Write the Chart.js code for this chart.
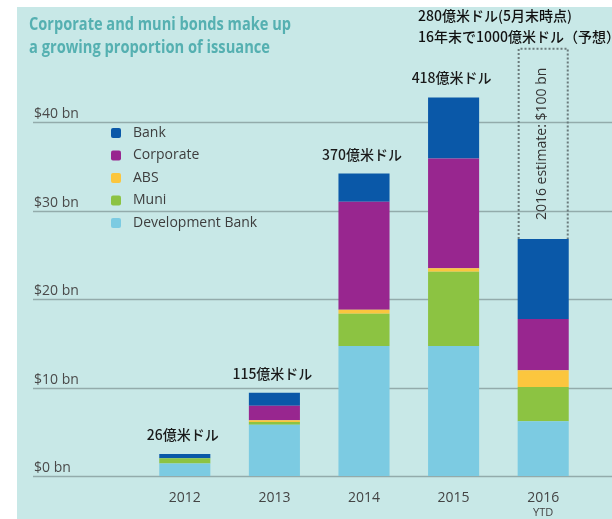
<!DOCTYPE html>
<html>
<head>
<meta charset="utf-8">
<title>Corporate and muni bonds</title>
<script src="https://cdn.jsdelivr.net/npm/chart.js@4.4.1/dist/chart.umd.min.js"></script>
<style>
  html, body { margin: 0; padding: 0; background: #fff; }
  canvas { display: block; }
</style>
</head>
<body>
<canvas id="chart-bonds" width="612" height="519"></canvas>
<script>
// values, $ bn
var years = ["2012", "2013", "2014", "2015", "2016"];
var devBank = [1.4, 5.8, 14.7, 14.7, 6.2];
var muni = [0.6, 0.3, 3.65, 8.4, 3.85];
var abs = [0, 0.2, 0.45, 0.4, 1.9];
var corporate = [0, 1.65, 12.2, 12.4, 5.8];
var bank = [0.5, 1.45, 3.2, 6.9, 9.05];
var totalLabels = ["26億米ドル", "115億米ドル", "370億米ドル", "418億米ドル", ""];
var yTicks = [0, 10, 20, 30, 40];
var yTickLabels = ["$0 bn", "$10 bn", "$20 bn", "$30 bn", "$40 bn"];
var estimateTop = 48.3; // top of the dotted 2016 estimate box (not to scale)

var TEAL = "#c8e8e7";
var LATIN = "'Open Sans', sans-serif";
var CJK = "'Noto Sans CJK JP', sans-serif";

/* panel background */
var backdrop = {
    id: "backdrop",
    beforeDraw: function(chart) {
        var c = chart.ctx;
        c.save();
        c.fillStyle = "#fff";
        c.fillRect(0, 0, chart.width, chart.height);
        c.fillStyle = TEAL;
        c.fillRect(17, 7, chart.width - 17, chart.height - 7);
        c.restore();
    }
};

/* gridlines run the full width, labels sit on top of them */
var gridLines = {
    id: "gridLines",
    beforeDatasetsDraw: function(chart) {
        var c = chart.ctx, y = chart.scales.y;
        c.save();
        c.strokeStyle = "#93abab";
        c.lineWidth = 1.5;
        c.fillStyle = "#4a4a4a";
        c.font = "14px " + LATIN;
        c.textAlign = "left";
        c.textBaseline = "alphabetic";
        yTicks.forEach(function(v, i) {
            var py = Math.round(y.getPixelForValue(v)) + 0.5;
            c.beginPath();
            c.moveTo(33, py);
            c.lineTo(chart.width, py);
            c.stroke();
            c.fillText(yTickLabels[i], 34, py - 5);
        });
        c.restore();
    }
};

var extras = {
    id: "extras",
    afterDatasetsDraw: function(chart) {
        var c = chart.ctx, x = chart.scales.x, y = chart.scales.y;
        var top = chart.getDatasetMeta(chart.data.datasets.length - 1).data;
        c.save();

        // year labels
        c.fillStyle = "#444";
        c.textAlign = "center";
        c.textBaseline = "middle";
        c.font = "14px " + LATIN;
        years.forEach(function(yr, i) {
            c.fillText(yr, x.getPixelForValue(i), 498);
        });
        c.font = "11px " + LATIN;
        c.fillText("YTD", x.getPixelForValue(4), 513);

        // totals above the bars
        c.fillStyle = "#1a1a1a";
        c.font = "500 14px " + CJK;
        c.textBaseline = "alphabetic";
        totalLabels.forEach(function(t, i) {
            if (!t) return;
            c.fillText(t, top[i].x - 2, top[i].y - 14);
        });

        // dotted estimate box over 2016
        var b = top[4];
        var l = b.x - b.width / 2 + 1, r = b.x + b.width / 2 - 1;
        var ty = y.getPixelForValue(estimateTop);
        c.strokeStyle = "#6b7b7c";
        c.lineWidth = 2;
        c.setLineDash([2, 2]);
        c.beginPath();
        c.moveTo(l, b.y);
        c.lineTo(l, ty);
        c.lineTo(r, ty);
        c.lineTo(r, b.y);
        c.stroke();
        c.setLineDash([]);
        c.save();
        c.translate(b.x - 1, (ty + b.y) / 2);
        c.rotate(-Math.PI / 2);
        c.fillStyle = "#333";
        c.font = "14px " + LATIN;
        c.textAlign = "center";
        c.textBaseline = "middle";
        c.fillText("2016 estimate: $100 bn", 0, 0);
        c.restore();

        // legend, top of stack first
        c.font = "14px " + LATIN;
        c.textAlign = "left";
        c.textBaseline = "middle";
        var ds = chart.data.datasets;
        for (var k = 0; k < ds.length; k++) {
            var d = ds[ds.length - 1 - k];
            var cy = 133 + k * 22.5;
            c.fillStyle = d.backgroundColor;
            c.beginPath();
            c.roundRect(111, cy - 5, 10, 10, 2);
            c.fill();
            c.fillStyle = "#3d3d3d";
            c.fillText(d.label, 133, cy);
        }

        // title
        c.fillStyle = "#55b0b1";
        c.font = "bold 18px " + LATIN;
        c.textBaseline = "alphabetic";
        c.fillText("Corporate and muni bonds make up", 29, 30, 262);
        c.fillText("a growing proportion of issuance", 29, 53, 241);

        // japanese notes, top right
        c.fillStyle = "#111";
        c.font = "500 14px " + CJK;
        c.textBaseline = "middle";
        c.fillText("280億米ドル(5月末時点)", 418, 16);
        c.fillText("16年末で1000億米ドル（予想）", 418, 37);

        c.restore();
    }
};

var ctx = document.getElementById("chart-bonds");
var bondChart = new Chart(ctx, {
    type: "bar",
    data: {
        labels: years,
        datasets: [
            { label: "Development Bank", data: devBank, backgroundColor: "#7ccbe2" },
            { label: "Muni", data: muni, backgroundColor: "#8cc342" },
            { label: "ABS", data: abs, backgroundColor: "#fbc63e" },
            { label: "Corporate", data: corporate, backgroundColor: "#98268f" },
            { label: "Bank", data: bank, backgroundColor: "#0a58a8" }
        ]
    },
    options: {
        responsive: false,
        animation: false,
        layout: {
            padding: { left: 140, right: 24, top: 78, bottom: 43 }
        },
        datasets: {
            bar: { barPercentage: 0.57, categoryPercentage: 1, borderWidth: 0 }
        },
        scales: {
            x: { stacked: true, display: false },
            y: { stacked: true, display: false, min: 0, max: 45 }
        },
        plugins: {
            legend: { display: false },
            tooltip: { enabled: false }
        }
    },
    plugins: [backdrop, gridLines, extras]
});
</script>
</body>
</html>
